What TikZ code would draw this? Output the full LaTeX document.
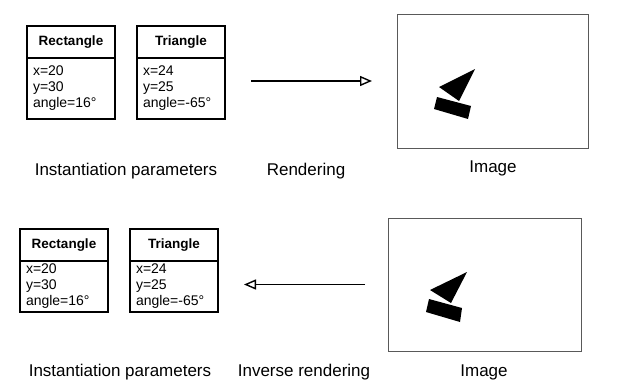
\documentclass[tikz,border=0pt]{standalone}
\usepackage{fontspec}
\setmainfont{Liberation Sans}
\usetikzlibrary{arrows.meta,positioning}

\begin{document}
\begin{tikzpicture}[x=1pt, y=-1pt,
  head/.style={draw, line width=1.4pt, outer sep=0pt, inner sep=0pt, minimum width=88pt,
    minimum height=32pt, font=\fontsize{13.5}{16}\selectfont\bfseries},
  body/.style={draw, line width=1.4pt, outer sep=0pt, inner sep=0pt, minimum width=88pt,
    text width=76pt, align=left, font=\fontsize{14}{16}\selectfont},
  frame/.style={draw=black!65, line width=0.9pt, outer sep=0pt, inner sep=0pt},
  flow/.style={line width=1.6pt, -{Triangle[open, length=12pt, width=10pt, line width=1.4pt]}},
  caption/.style={anchor=base, inner sep=0pt, font=\fontsize{17}{20}\selectfont}]
\useasboundingbox (0,0) rectangle (620,388);
\newcommand{\shapecard}[6]{\node[head, anchor=north west] (#1h) at (#2,#3) {#5};
  \node[body, minimum height=#4pt, below=0pt of #1h] (#1b) {#6};}
% forward: parameters -> image
\shapecard{rect1}{27}{26}{61}{Rectangle}{x=20\\y=30\\angle=16°}
\shapecard{tri1}{137}{26}{61}{Triangle}{x=24\\y=25\\angle=-65°}
\node[frame, minimum width=191pt, minimum height=134pt] (img1) at (492.5,81) {};
\fill (475,69) -- (439,87) -- (459,101) -- cycle;
\fill (437,97) -- (471,106) -- (468,119) -- (434,109) -- cycle;
\draw[flow, shorten <=26pt, shorten >=25pt] (tri1b.east |- img1.west) -- (img1.west);
\node[caption] (cap1) at (126,175) {Instantiation parameters};
\node[caption] (cap2) at (306,175) {Rendering};
\node[caption] (cap3) at (493,172) {Image};
% backward: image -> parameters
\shapecard{rect2}{20}{229}{51}{Rectangle}{x=20\\y=30\\angle=16°}
\shapecard{tri2}{130}{229}{51}{Triangle}{x=24\\y=25\\angle=-65°}
\node[frame, minimum width=193pt, minimum height=133pt] (img2) at (484.5,284.5) {};
\fill (467,272) -- (430,290) -- (451,303) -- cycle;
\fill (429,299) -- (462,308) -- (460,322) -- (426,312) -- cycle;
\draw[flow, shorten <=23pt, shorten >=26pt] (img2.west) -- (tri2b.east |- img2.west);
\node[caption] (cap4) at (120,376) {Instantiation parameters};
\node[caption] (cap5) at (304,376) {Inverse rendering};
\node[caption] (cap6) at (484,376) {Image};
\end{tikzpicture}
\end{document}
